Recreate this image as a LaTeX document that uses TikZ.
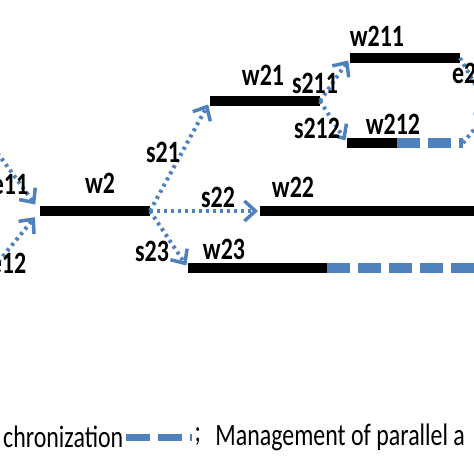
\documentclass[tikz,border=0pt]{standalone}
\usepackage{fontspec}
\setmainfont{Carlito}
\usetikzlibrary{arrows.meta,positioning}
\definecolor{syncblue}{RGB}{79,129,189}
\begin{document}
\begin{tikzpicture}[x=1bp,y=-1bp,
    bar/.style={line width=10bp},
    sync/.style={syncblue,line width=4bp,dash pattern=on 3bp off 4bp,
      -{Straight Barb[length=11bp,width=20bp,line width=3.5bp]}},
    mgmt/.style={syncblue,line width=10bp,dash pattern=on 23bp off 8bp},
    lbl/.style={font=\fontsize{24}{28}\selectfont\bfseries,inner sep=0pt,yscale=1.3},
    leg/.style={font=\fontsize{24}{28}\selectfont,inner sep=0pt,yscale=1.3}]
    \useasboundingbox (0,0) rectangle (474,474);
    \coordinate (w11e) at (-15,136);
    \coordinate (w12e) at (-15,278);
    \coordinate (w2s) at (40,211);   \coordinate (w2e) at (150,211);
    \coordinate (w21s) at (210,101); \coordinate (w21e) at (320,101);
    \coordinate (w211s) at (350,58); \coordinate (w211e) at (460,58);
    \coordinate (w212s) at (347,143); \coordinate (w212m) at (397,143); \coordinate (w212e) at (463,143);
    \coordinate (w22s) at (260,211); \coordinate (w22e) at (480,211);
    \coordinate (w23s) at (188,268); \coordinate (w23m) at (327,268); \coordinate (w23e) at (480,268);
    \coordinate (j21) at (490,110);
    \draw[bar] (w2s) -- (w2e);
    \draw[bar] (w21s) -- (w21e);
    \draw[bar] (w211s) -- (w211e);
    \draw[bar] (w212s) -- (w212m);
    \draw[mgmt] (w212m) -- (w212e);
    \draw[bar] (w22s) -- (w22e);
    \draw[bar] (w23s) -- (w23m);
    \draw[mgmt] (w23m) -- (w23e);
    \draw[sync,shorten >=8bp] (w11e) -- (w2s);
    \draw[sync,shorten >=8bp] (w12e) -- (w2s);
    \draw[sync,shorten >=4bp] (w2e) -- (w21s);
    \draw[sync,shorten >=2bp] (w2e) -- (w22s);
    \draw[sync,shorten >=3bp] (w2e) -- (w23s);
    \draw[sync,shorten >=3bp] (w21e) -- (w211s);
    \draw[sync,shorten >=3bp] (w21e) -- (w212s);
    \draw[sync] (w211e) -- (j21);
    \draw[sync] (w212e) -- (j21);
    \node(e11)[lbl] at (10,185) {e11};
    \node(e12)[lbl] at (8,263) {e12};
    \node(w2)[lbl] at (100,183) {w2};
    \node(s21)[lbl] at (163,152) {s21};
    \node(s22)[lbl] at (218,197) {s22};
    \node(s23)[lbl] at (152,251) {s23};
    \node(w21)[lbl] at (263,75) {w21};
    \node(s211)[lbl] at (315,83) {s211};
    \node(w211)[lbl] at (377,36) {w211};
    \node(s212)[lbl] at (317,128) {s212};
    \node(w212)[lbl] at (393,124) {w212};
    \node(e211)[lbl,anchor=west] at (452,73) {e211};
    \node(w22)[lbl] at (293,187) {w22};
    \node(w23)[lbl] at (224,249) {w23};
    \node(chr)[leg,anchor=west] at (3,437) {chronization};
    \node(semi)[leg,right=71bp of chr] {;};
    \node(man)[leg,right=14bp of semi] {Management of parallel a};
    \draw[mgmt,line width=7bp,dash pattern=on 24bp off 8bp,shorten <=3bp,shorten >=2bp] (chr.east) -- (semi.west);
\end{tikzpicture}
\end{document}
